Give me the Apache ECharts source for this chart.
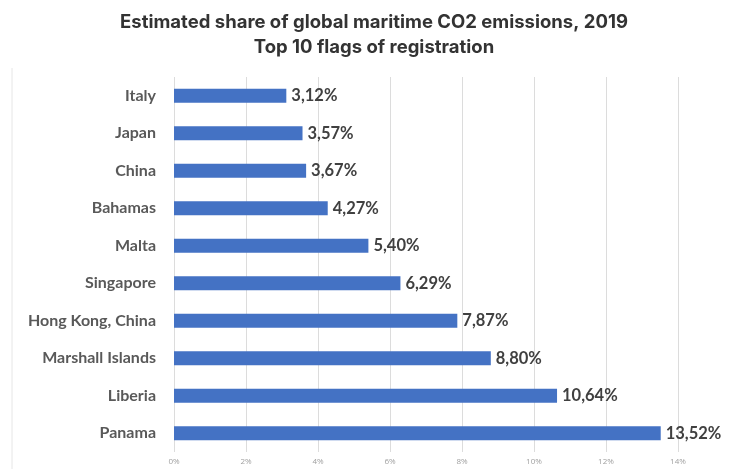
<!DOCTYPE html>
<html>
<head>
<meta charset="utf-8">
<script src="https://cdn.jsdelivr.net/npm/echarts@6/dist/echarts.min.js"></script>
<style>
    html, body { margin: 0; padding: 0; background: #fff; }
    #main { width: 731px; height: 469px; }
</style>
</head>
<body>
<div id="main"></div>
<script>
// 数据
var flags = ['Panama', 'Liberia', 'Marshall Islands', 'Hong Kong, China', 'Singapore',
    'Malta', 'Bahamas', 'China', 'Japan', 'Italy']
var shares = [13.52, 10.64, 8.80, 7.87, 6.29, 5.40, 4.27, 3.67, 3.57, 3.12]
var xTicks = [0, 2, 4, 6, 8, 10, 12, 14]

var myChart = echarts.init(document.getElementById('main'))

var option = {
    animation: false,
    title: {
        text: 'Estimated share of global maritime CO2 emissions, 2019\nTop 10 flags of registration',
        left: 369,
        textAlign: 'center',
        top: 5,
        textStyle: {
            fontFamily: 'Inter',
            fontSize: 18.5,
            fontWeight: 'bold',
            color: '#333',
            lineHeight: 25
        }
    },
    graphic: [{
        type: 'line',
        shape: { x1: 12, y1: 68, x2: 12, y2: 469 },
        style: { stroke: '#e6e6e6', lineWidth: 1 }
    }],
    grid: {
        left: 174,
        right: 53,
        top: 77,
        bottom: 17
    },
    xAxis: {
        type: 'value',
        min: xTicks[0],
        max: xTicks[xTicks.length - 1],
        interval: 2,
        axisLine: { show: false },
        axisTick: { show: false },
        splitLine: { lineStyle: { color: '#dcdcdc' } },
        axisLabel: {
            formatter: function (v) { return v + '%' },
            fontFamily: 'Open Sans',
            fontSize: 8,
            color: '#a0a0a0',
            margin: 6
        }
    },
    yAxis: {
        type: 'category',
        data: flags,
        axisLine: { show: false },
        axisTick: { show: false },
        axisLabel: {
            fontFamily: 'Lato',
            fontWeight: 'bold',
            fontSize: 16,
            color: '#595959',
            margin: 18
        }
    },
    series: [{
        type: 'bar',
        data: shares,
        barWidth: 14,
        itemStyle: { color: '#4472C4' },
        label: {
            show: true,
            position: 'right',
            distance: 5,
            fontFamily: 'Lato',
            fontWeight: 'bold',
            fontSize: 16.5,
            color: '#404040',
            formatter: function (p) { return p.value.toFixed(2).replace('.', ',') + '%' }
        }
    }]
}

myChart.setOption(option)
</script>
</body>
</html>
